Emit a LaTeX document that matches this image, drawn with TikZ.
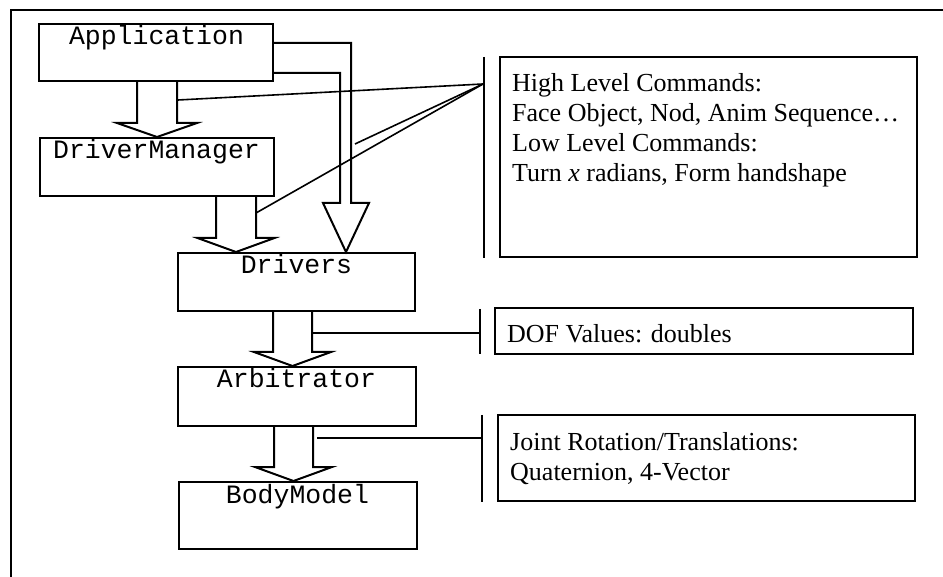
\documentclass[tikz,border=0pt]{standalone}
\usepackage{fontspec}
\setmainfont{Liberation Serif}
\newfontfamily\monofnt{Liberation Mono}
\usetikzlibrary{calc}
\tikzset{
  thick line/.style={line width=2pt, line join=miter},
  thin line/.style={line width=1.6pt},
  modbox/.style={draw, line width=2pt, rectangle, inner sep=0pt},
  monotext/.style={font=\monofnt\fontsize{26.5}{30}\selectfont, anchor=base, inner sep=0pt},
  sertext/.style={font=\fontsize{26}{30}\selectfont, anchor=base west, inner sep=0pt},
}
\newcommand\hollowdown[4]{%
  \draw[thick line] ($(#2|-#1)+(-#3,0)$) -- ($(#2)+(-#3,-14)$) -- ($(#2)+(-#4,-14)$)
    -- (#2) -- ($(#2)+(#4,-14)$) -- ($(#2)+(#3,-14)$) -- ($(#2|-#1)+(#3,0)$);}
\begin{document}
\begin{tikzpicture}[x=1pt,y=-1pt]
\useasboundingbox (0,0) rectangle (943,577);
% frame
\draw[line width=1.8pt] (11,577) -- (11,10) -- (943,10);

% module boxes
\node[modbox, minimum width=234pt, minimum height=57pt] (app) at (156,52.5) {};
\node[modbox, minimum width=234pt, minimum height=58pt] (dm) at (157,167) {};
\node[modbox, minimum width=237pt, minimum height=58pt] (drv) at (296.5,282) {};
\node[modbox, minimum width=238pt, minimum height=59pt] (arb) at (297,396.5) {};
\node[modbox, minimum width=238pt, minimum height=67pt] (body) at (298,515.5) {};

\node[monotext] (appT) at ($(app.north)+(0.5,22)$) {Application};
\node[monotext] (dmT) at ($(dm.north)+(-0.5,22)$) {DriverManager};
\node[monotext] (drvT) at ($(drv.north)+(0,22)$) {Drivers};
\node[monotext] (arbT) at ($(arb.north)+(-0.5,22)$) {Arbitrator};
\node[monotext] (bodyT) at ($(body.north)+(-0.5,22)$) {BodyModel};

% hollow arrows
\coordinate (t1) at (dm.north);
\hollowdown{app.south}{t1}{20}{40}
\coordinate (t2) at ($(drv.north)+(-60.5,0)$);
\hollowdown{dm.south}{t2}{20}{38.5}
\coordinate (t3) at ($(arb.north)+(-4.5,0)$);
\hollowdown{drv.south}{t3}{19.5}{38.5}
\coordinate (t4) at ($(body.north)+(-4.5,0)$);
\hollowdown{arb.south}{t4}{19.5}{38.5}

% bent arrow Application -> Drivers
\coordinate (t5) at ($(drv.north)+(49.5,0)$);
\draw[thick line] (app.east |- 0,43) -| ($(t5)+(5,-49)$) -- ($(t5)+(23,-49)$) -- (t5)
  -- ($(t5)+(-23,-49)$) -- ($(t5)+(-6,-49)$) |- (app.east |- 0,73);

% high level command callout
\node[modbox, minimum width=417pt, minimum height=200pt] (hl) at (708.5,157) {};
\coordinate (hlbt) at (484,57);
\coordinate (hlbb) at (484,258);
\draw[thick line] (hlbt) -- (hlbb);
\coordinate (hlp) at (483,84);
\coordinate (c1) at (178,100);
\coordinate (c2) at (355,144);
\coordinate (c3) at (256,213);
\draw[thin line] (hlp) -- (c1);
\draw[thin line] (hlp) -- (c2);
\draw[thin line] (hlp) -- (c3);
\node[sertext] (hl1) at (512,92) {High Level Commands:};
\node[sertext] (hl2) at (512,122) {Face Object, Nod, Anim Sequence…};
\node[sertext] (hl3) at (512,152) {Low Level Commands:};
\node[sertext] (hl4) at (512,182) {Turn \textit{x} radians, Form handshape};

% DOF callout
\node[modbox, minimum width=418pt, minimum height=46pt] (dof) at (704,331) {};
\coordinate (dofbt) at (480,309);
\coordinate (dofbb) at (480,354);
\draw[thick line] (dofbt) -- (dofbb);
\coordinate (d1) at (312,333);
\coordinate (d2) at (480,333);
\draw[thin line] (d1) -- (d2);
\node[sertext] (dofT) at (507,343) {DOF Values: doubles};

% joint callout
\node[modbox, minimum width=417pt, minimum height=86pt] (jt) at (706.5,458) {};
\coordinate (jtbt) at (482,415);
\coordinate (jtbb) at (482,502);
\draw[thick line] (jtbt) -- (jtbb);
\coordinate (j1) at (317,438);
\coordinate (j2) at (482,438);
\draw[thin line] (j1) -- (j2);
\node[sertext] (jt1) at (510,450) {Joint Rotation/Translations:};
\node[sertext] (jt2) at (510,480) {Quaternion, 4-Vector};
\end{tikzpicture}
\end{document}
